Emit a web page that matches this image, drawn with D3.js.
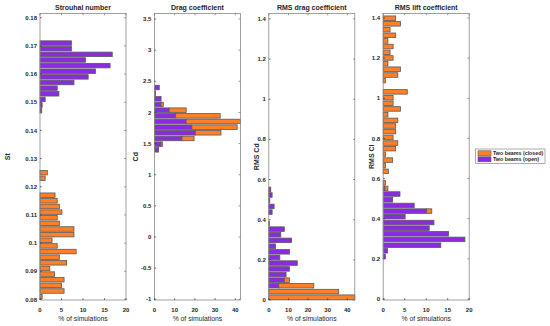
<!DOCTYPE html>
<html>
<head>
<meta charset="utf-8">
<script src="https://cdn.jsdelivr.net/npm/d3@7"></script>
<style>
body { margin: 0; background: #fff; }
svg text { font-family: "Liberation Sans", Arial, sans-serif; fill: #262626; }
</style>
</head>
<body>
<div id="vis"></div>
<script>
// --- data: bin centres + % of simulations per bin ---
// Strouhal number
const stBins = [0.081,0.083,0.085,0.087,0.089,0.091,0.093,0.095,0.097,0.099,
    0.101,0.103,0.105,0.107,0.109,0.111,0.113,0.115,0.117,0.119,
    0.121,0.123,0.125,0.127,0.129,0.131,0.133,0.135,0.137,0.139,
    0.141,0.143,0.145,0.147,0.149,0.151,0.153,0.155,0.157,0.159,
    0.161,0.163,0.165,0.167,0.169,0.171]
const stClosed = [0.5,5.6,5.0,5.6,3.4,2.3,6.2,4.5,8.4,4.0,
    2.8,7.9,7.9,4.5,4.0,5.1,4.5,4.0,3.5,0,
    0,1.2,1.7,0,0,0,0,0,0,0,
    0,0,0,0,0,0,0,0,0,0,
    0,0,0,0,0,0]
const stOpen = [0,0,0,0,0,0,0,0,0,0,
    0,0,0,0,0,0,0,0,0,0,
    0,0,0,0,0,0,0,0,0,0,
    0,0,0,0.4,0.5,1.2,4.4,4.0,7.9,11.2,
    12.9,16.3,10.6,16.8,7.3,7.3]

// Drag coefficient
const cdBins = [1.400,1.491,1.582,1.673,1.764,1.855,1.945,2.036,2.127,2.218,2.309,2.400]
const cdOpen = [2.1,3.3,13.6,20.2,18.5,15.7,10.5,7.3,3.3,3.3,0.6,2.4]
const cdClosed = [0,0.7,6.0,12.7,22.4,26.8,22.0,8.4,1.1,0,0,0]

// RMS drag coefficient
const rmsCdBins = [0.014,0.042,0.071,0.099,0.127,0.155,0.184,0.212,0.240,0.268,
    0.297,0.325,0.353,0.381,0.410,0.438,0.466,0.494,0.523,0.551]
const rmsCdOpen = [0,0,5.1,7.9,8.8,10.5,14.5,5.6,10.5,3.4,
    11.6,6.1,7.9,0.3,0,1.7,2.7,0.5,1.7,1.0]
const rmsCdClosed = [43.8,35.6,17.8,2.6,0,0,0,0,0,0,
    0,0,0,0,0,0,0,0,0,0]

// RMS lift coefficient
const rmsClBins = [0.212,0.240,0.268,0.297,0.325,0.353,0.381,0.410,0.438,0.466,
    0.494,0.523,0.551,0.579,0.608,0.636,0.664,0.692,0.721,0.749,
    0.777,0.805,0.834,0.862,0.890,0.918,0.947,0.975,1.003,1.032,
    1.060,1.088,1.116,1.145,1.173,1.201,1.229,1.258,1.286,1.314,
    1.342,1.371,1.399]
const rmsClOpen = [0.5,1.0,13.4,19.0,15.2,10.7,11.8,5.1,10.1,7.2,
    2.2,3.9,0.4,0,0,0,0,0,0,0,
    0,0,0,0,0,0,0,0,0,0,
    0,0,0,0,0,0,0,0,0,0,
    0,0,0]
const rmsClClosed = [0,0,0,0,0,0,0,0,1.2,0,
    0,0,0.7,0.5,0,1.2,0.5,2.2,0.5,2.9,
    3.4,2.3,2.9,2.9,3.4,1.1,4.0,2.3,2.3,5.6,
    0,0.5,3.4,4.0,1.1,2.3,1.6,2.3,1.1,2.9,
    1.6,4.0,2.9]

const seriesNames = ['Two beams (closed)', 'Two beams (open)']
const colors = {closed: '#ff7f27', open: '#8a2be2'}

const W = 550, H = 326
const plotTop = 13.5, plotBottom = 300, pw = 86
const lefts = [40, 154.4, 268.8, 383.2]
const ylabOff = [-30, -16, -10, -9]

// panel setup (domains)
const panels = [
    {title: 'Strouhal number', ylab: 'St', bins: stBins, open: stOpen, closed: stClosed, binW: 0.002,
     xDom: [0, 20], xTicks: [0,5,10,15,20], yDom: [0.0798, 0.1815], yTicks: d3.range(0.08, 0.1801, 0.01)},
    {title: 'Drag coefficient', ylab: 'Cd', bins: cdBins, open: cdOpen, closed: cdClosed, binW: 0.0909,
     xDom: [0, 42.5], xTicks: [0,10,20,30,40], yDom: [-1.011, 3.588], yTicks: d3.range(-1, 3.51, 0.5)},
    {title: 'RMS drag coefficient', ylab: 'RMS Cd', bins: rmsCdBins, open: rmsCdOpen, closed: rmsCdClosed, binW: 0.02826,
     xDom: [0, 43.8], xTicks: [0,10,20,30,40], yDom: [0, 1.427], yTicks: d3.range(0, 1.41, 0.2)},
    {title: 'RMS lift coefficient', ylab: 'RMS Cl', bins: rmsClBins, open: rmsClOpen, closed: rmsClClosed, binW: 0.02826,
     xDom: [0, 20], xTicks: [0,5,10,15,20], yDom: [-0.005, 1.4225], yTicks: d3.range(0, 1.41, 0.2)}
]

const svg = d3.select('#vis').append('svg')
    .attr('width', W).attr('height', H)

const fmt = d => +d.toFixed(2) + ''

panels.forEach((p, k) => {
    const x0 = lefts[k]
    const g = svg.append('g').attr('transform', `translate(${x0},0)`)

    const x = d3.scaleLinear().domain(p.xDom).range([0, pw])
    const y = d3.scaleLinear().domain(p.yDom).range([plotBottom, plotTop])
    const bh = Math.abs(y(p.binW) - y(0)) * 0.8

    const rows = p.bins.map((b, i) => ({b, open: p.open[i], closed: p.closed[i]}))

    // stacked: open first, closed on top of it
    g.selectAll('.bo').data(rows.filter(d => d.open > 0)).join('rect')
        .attr('x', x(0)).attr('y', d => y(d.b) - bh / 2)
        .attr('width', d => x(d.open) - x(0)).attr('height', bh)
        .attr('fill', colors.open).attr('stroke', '#5a5a5a').attr('stroke-width', 0.8)
    g.selectAll('.bc').data(rows.filter(d => d.closed > 0)).join('rect')
        .attr('x', d => x(d.open)).attr('y', d => y(d.b) - bh / 2)
        .attr('width', d => x(d.open + d.closed) - x(d.open)).attr('height', bh)
        .attr('fill', colors.closed).attr('stroke', '#5a5a5a').attr('stroke-width', 0.8)

    // box + inward ticks on all sides
    const ax = g.append('g').attr('class', 'axis')
    ax.append('rect').attr('x', 0).attr('y', plotTop).attr('width', pw).attr('height', plotBottom - plotTop)
        .attr('fill', 'none').attr('stroke', '#8a8a8a').attr('stroke-width', 0.8)
    p.yTicks.forEach(t => {
        ax.append('line').attr('x1', 0).attr('x2', 1.8).attr('y1', y(t)).attr('y2', y(t)).attr('stroke', '#333').attr('stroke-width', 0.7)
        ax.append('line').attr('x1', pw - 1.8).attr('x2', pw).attr('y1', y(t)).attr('y2', y(t)).attr('stroke', '#666').attr('stroke-width', 0.7)
        ax.append('text').attr('x', -3).attr('y', y(t) + 2.1).attr('text-anchor', 'end')
            .style('font-size', '6px').style('font-weight', 'bold').text(fmt(t))
    })
    p.xTicks.forEach(t => {
        ax.append('line').attr('x1', x(t)).attr('x2', x(t)).attr('y1', plotBottom).attr('y2', plotBottom - 1.8).attr('stroke', '#333').attr('stroke-width', 0.7)
        ax.append('line').attr('x1', x(t)).attr('x2', x(t)).attr('y1', plotTop).attr('y2', plotTop + 1.8).attr('stroke', '#666').attr('stroke-width', 0.7)
        ax.append('text').attr('x', x(t)).attr('y', 311.5).attr('text-anchor', 'middle')
            .style('font-size', '6px').style('font-weight', 'bold').text(t)
    })

    g.append('text').attr('x', pw / 2).attr('y', 10).attr('text-anchor', 'middle')
        .style('font-size', '7px').style('font-weight', 'bold').text(p.title)
    g.append('text').attr('x', pw / 2).attr('y', 321).attr('text-anchor', 'middle')
        .style('font-size', '6.8px').text('% of simulations')
    g.append('text').attr('transform', `translate(${ylabOff[k]},${(plotTop + plotBottom) / 2}) rotate(-90)`)
        .attr('text-anchor', 'middle')
        .style('font-size', '7px').style('font-weight', 'bold').text(p.ylab)
})

// legend
const lg = svg.append('g').attr('transform', 'translate(475.5,149)')
lg.append('rect').attr('width', 69.5).attr('height', 14.5).attr('fill', '#fff').attr('stroke', '#8a8a8a').attr('stroke-width', 0.7)
seriesNames.forEach((s, i) => {
    lg.append('rect').attr('x', 2.5).attr('y', 1.8 + i * 6).attr('width', 13).attr('height', 5)
        .attr('fill', i == 0 ? colors.closed : colors.open).attr('stroke', '#5a5a5a').attr('stroke-width', 0.6)
    lg.append('text').attr('x', 17.5).attr('y', 6.3 + i * 6)
        .style('font-size', '5.3px').style('font-weight', 'bold').text(s)
})
</script>
</body>
</html>
